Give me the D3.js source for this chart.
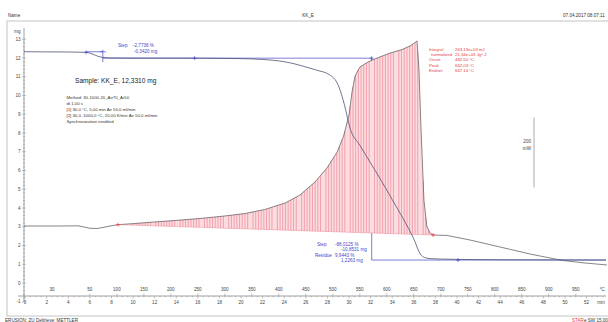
<!DOCTYPE html>
<html><head><meta charset="utf-8">
<script src="https://cdn.jsdelivr.net/npm/d3@7"></script>
<style>body{margin:0;background:#fff}svg{display:block;font-family:"Liberation Sans",Arial,sans-serif}</style>
</head><body><svg id="c" width="608" height="322"></svg>
<script>
// ---- data ----
const tgaTime = [-0.1,2,4,5.65,6.2,6.7,7.2,8,10,15,18,20,22,24,25,26,27,28.2,29,29.6,30.1,31,32,33,34,35,36,36.6,37,37.6,38.5,40,45,53.8];
const tgaMass = [12.331,12.325,12.318,12.30,12.22,12.10,12.03,12.0,11.992,11.989,11.98,11.965,11.92,11.8,11.68,11.52,11.35,11.1,10.55,9.45,8.25,7.35,6.4,5.45,4.45,3.45,2.35,1.55,1.36,1.3,1.28,1.26,1.24,1.226];
const dscTime = [-0.1,3.24,4.9,5.46,6.0,6.67,7.31,8.06,8.61,10.19,11.57,13.9,16.2,18.5,20.4,22.2,24.1,25.46,26.85,27.96,28.9,29.5,30.0,30.28,30.56,31.0,31.76,32.69,33.8,34.9,35.74,36.3,36.48,36.67,36.94,37.2,37.5,37.78,39.07,41.2,43.98,46.76,49.8,51.85,53.9];
const dscHeat = [0,0,0.5,-2.9,-6.6,-7.1,-3.7,1.1,3.7,7.1,10.6,15.7,21.4,28.6,35.7,47.1,65.7,88.6,125.7,165.7,211,257,317,383,428.6,454,468.6,481,494,504,515.7,528.6,445.7,274,74,0,-20,-25.7,-27,-40,-60,-80,-98.6,-105.7,-111.4];
const integrationTime = [8.61, 37.78];
const integrationBase = [3.7, -25.7];
const massTicks = [-1,0,1,2,3,4,5,6,7,8,9,10,11,12,13];
const timeTickLabels = [0,2,4,6,8,10,12,14,16,18,20,22,24,26,28,30,32,34,36,38,40,42,44,46,48,50,52];
const tempTickLabels = [50,100,150,200,250,300,350,400,450,500,550,600,650,700,750,800,850,900,950];
const isoTemp = 30, isoEnd = 5, heatRate = 20, isoLabelTime = 2.5;
const stepLevels = [12.331, 11.989, 1.226];
const stepTimes = [5.65, 7.2, 32.1, 53.8];
const stepMarkTimes = [15.7, 40.1];
const scaleBarBase = 110, scaleBarSpan = 200;
const sampleText = "Sample: KK_E, 12,3310 mg";
const methodLines = ["Method: 30-1000-20_Air70_Ar50","dt 1,00 s","[1] 30,0 °C, 5,00 min   Air 50,0 ml/min","[2] 30,0..1000,0 °C, 20,00 K/min   Air 50,0 ml/min","Synchronization enabled"];
const step1Text = ["Step", "-2,7736 %", "-0,3420 mg"];
const step2Text = [["Step","-88,0125 %"],["","-10,8531 mg"],["Residue","9,9443 %"],["","1,2263 mg"]];
const integralText = [["Integral","263,13e+03 mJ"],["normalized","21,34e+03 Jg^-1"],["Onset","482,50 °C"],["Peak","662,03 °C"],["Endset","667,14 °C"]];

// ---- scales ----
const svg = d3.select("#c");
const x = d3.scaleLinear().domain([-0.1, 53.8]).range([24, 606]);
const yMg = d3.scaleLinear().domain([-1, 13]).range([301.8, 39.2]);
const yDsc = d3.scaleLinear().domain([-216.6, 533.7]).range([301.8, 39.2]);
const tempToTime = T => isoEnd + (T - isoTemp) / heatRate;

const blue = "#4646c8", red = "#e83a44";

// frame & header
svg.append("rect").attr("x",7).attr("y",21).attr("width",610).attr("height",295).attr("fill","none").attr("stroke","#c4c4c4").attr("stroke-width",1);
svg.append("text").attr("x",8).attr("y",17).attr("font-size",4.6).attr("fill","#333").text("Name");
svg.append("text").attr("x",308).attr("y",17).attr("font-size",4.6).attr("fill","#333").attr("text-anchor","middle").text("KK_E");
svg.append("text").attr("x",563).attr("y",17).attr("font-size",4.6).attr("fill","#333").text("07.04.2017 08:07:11");
svg.append("text").attr("x",5).attr("y",322).attr("font-size",4.6).attr("fill","#333").text("ERUSION: ZU Deltrieve: METTLER");
const st = svg.append("text").attr("x",572).attr("y",322).attr("font-size",4.6).attr("fill","#333");
st.append("tspan").attr("fill",red).text("STAR");
st.append("tspan").text("e SW 15.00");

// y axis
const yAx = svg.append("g");
yAx.append("line").attr("x1",24).attr("x2",24).attr("y1",yMg(-1)).attr("y2",28).attr("stroke","#888").attr("stroke-width",0.8);
d3.range(-1, 13.01, 0.2).forEach(v => {
  const major = Math.abs(v - Math.round(v)) < 1e-6;
  yAx.append("line").attr("x1", major ? 22 : 23).attr("x2", major ? 26 : 25).attr("y1", yMg(v)).attr("y2", yMg(v)).attr("stroke","#888").attr("stroke-width",0.5);
});
massTicks.forEach(v => yAx.append("text").attr("x",20.5).attr("y",yMg(v)+1.6).attr("font-size",4.6).attr("text-anchor","end").attr("fill","#444").text(v));
yAx.append("text").attr("x",20.5).attr("y",32.5).attr("font-size",4.6).attr("text-anchor","end").attr("fill","#444").text("mg");

// x axis
const axY = 296;
const xAx = svg.append("g");
xAx.append("line").attr("x1",18).attr("x2",606).attr("y1",axY).attr("y2",axY).attr("stroke","#888").attr("stroke-width",0.8);
d3.range(0, 53.6, 0.5).forEach(t => {
  const major = Math.abs(t/2 - Math.round(t/2)) < 1e-6;
  xAx.append("line").attr("x1",x(t)).attr("x2",x(t)).attr("y1",axY).attr("y2",axY + (major?2.5:1.3)).attr("stroke","#888").attr("stroke-width",0.5);
});
timeTickLabels.forEach(t => xAx.append("text").attr("x",x(t)).attr("y",303.5).attr("font-size",4.6).attr("text-anchor","middle").attr("fill","#444").text(t));
xAx.append("text").attr("x",601).attr("y",303.5).attr("font-size",4.6).attr("text-anchor","middle").attr("fill","#444").text("min");
tempTickLabels.forEach(T => {
  xAx.append("line").attr("x1",x(tempToTime(T))).attr("x2",x(tempToTime(T))).attr("y1",axY).attr("y2",axY-2.5).attr("stroke","#888").attr("stroke-width",0.5);
  xAx.append("text").attr("x",x(tempToTime(T))).attr("y",291).attr("font-size",4.6).attr("text-anchor","middle").attr("fill","#444").text(T);
});
xAx.append("text").attr("x",x(isoLabelTime)).attr("y",291).attr("font-size",4.6).attr("text-anchor","middle").attr("fill","#444").text(isoTemp);
xAx.append("text").attr("x",602).attr("y",291).attr("font-size",4.6).attr("text-anchor","middle").attr("fill","#444").text("°C");

// blue step evaluation lines (behind fill)
const bl = svg.append("g").attr("stroke",blue).attr("stroke-width",0.7).attr("fill","none");
bl.append("line").attr("x1",x(stepTimes[0])).attr("x2",x(stepTimes[1])).attr("y1",yMg(stepLevels[0])).attr("y2",yMg(stepLevels[0]));
bl.append("line").attr("x1",x(stepTimes[1])).attr("x2",x(stepTimes[1])).attr("y1",yMg(stepLevels[0])-2).attr("y2",yMg(stepLevels[1])+4);
bl.append("line").attr("x1",x(stepTimes[1])-3).attr("x2",x(stepTimes[1])+3).attr("y1",yMg(stepLevels[0])).attr("y2",yMg(stepLevels[0]));
bl.append("line").attr("x1",x(stepTimes[1])).attr("x2",x(stepTimes[2])).attr("y1",yMg(stepLevels[1])).attr("y2",yMg(stepLevels[1]));
bl.append("line").attr("x1",x(stepTimes[2])).attr("x2",x(stepTimes[2])).attr("y1",yMg(stepLevels[1])).attr("y2",yMg(stepLevels[2]));
bl.append("line").attr("x1",x(stepTimes[2])).attr("x2",x(stepTimes[3])).attr("y1",yMg(stepLevels[2])).attr("y2",yMg(stepLevels[2]));

// DSC fill with stripes
const interp = (xs, ys, t) => {
  const i = Math.max(1, Math.min(xs.length-1, d3.bisectLeft(xs, t)));
  const f = (t - xs[i-1]) / (xs[i] - xs[i-1]);
  return ys[i-1] + f * (ys[i] - ys[i-1]);
};
const base = t => interp(integrationTime, integrationBase, t);
const fillPts = [];
dscTime.forEach((t,i) => { if (t >= integrationTime[0] && t <= integrationTime[1]) fillPts.push([t, dscHeat[i]]); });
svg.append("path").datum(fillPts)
  .attr("d", d3.area().x(d=>x(d[0])).y0(d=>yDsc(base(d[0]))).y1(d=>yDsc(d[1])))
  .attr("fill","#fbdde1");
const stripes = svg.append("g").attr("stroke","#f29aa5").attr("stroke-width",0.9);
let k = 0;
for (let px = x(integrationTime[0]); px <= x(integrationTime[1]); px += 2.7, k++) {
  if (k % 9 === 4) continue;
  const t = x.invert(px);
  const top = interp(dscTime, dscHeat, t);
  stripes.append("line").attr("x1",px).attr("x2",px).attr("y1",yDsc(base(t))).attr("y2",yDsc(top));
}
// DSC line
svg.append("path").datum(dscTime.map((t,i)=>[t,dscHeat[i]]))
  .attr("d", d3.line().x(d=>x(d[0])).y(d=>yDsc(d[1])))
  .attr("fill","none").attr("stroke","#6d6368").attr("stroke-width",0.8);
// integration baseline
svg.append("line").attr("x1",x(integrationTime[0])).attr("x2",x(integrationTime[1]))
  .attr("y1",yDsc(integrationBase[0])).attr("y2",yDsc(integrationBase[1])).attr("stroke","#f08a96").attr("stroke-width",0.5);
// TGA line
svg.append("path").datum(tgaTime.map((t,i)=>[t,tgaMass[i]]))
  .attr("d", d3.line().x(d=>x(d[0])).y(d=>yMg(d[1])).curve(d3.curveMonotoneX))
  .attr("fill","none").attr("stroke","#4c5472").attr("stroke-width",0.8);

// markers
const plus = (cx, cy, col) => {
  svg.append("line").attr("x1",cx-2).attr("x2",cx+2).attr("y1",cy).attr("y2",cy).attr("stroke",col).attr("stroke-width",0.7);
  svg.append("line").attr("x1",cx).attr("x2",cx).attr("y1",cy-2).attr("y2",cy+2).attr("stroke",col).attr("stroke-width",0.7);
};
plus(x(stepTimes[0]), yMg(interp(tgaTime,tgaMass,stepTimes[0])), blue);
plus(x(stepMarkTimes[0]), yMg(stepLevels[1]), blue);
plus(x(stepTimes[2]), yMg(stepLevels[1]), blue);
plus(x(stepMarkTimes[1]), yMg(stepLevels[2]), blue);
plus(x(integrationTime[0]), yDsc(integrationBase[0]), red);
plus(x(integrationTime[1]), yDsc(integrationBase[1]), red);

// scale bar
svg.append("line").attr("x1",534).attr("x2",534).attr("y1",yDsc(scaleBarBase)).attr("y2",yDsc(scaleBarBase+scaleBarSpan)).attr("stroke","#aaa").attr("stroke-width",1);
svg.append("text").attr("x",531).attr("y",143).attr("font-size",4.6).attr("text-anchor","end").attr("fill","#444").text(scaleBarSpan);
svg.append("text").attr("x",531).attr("y",149.5).attr("font-size",4.6).attr("text-anchor","end").attr("fill","#444").text("mW");

// texts
svg.append("text").attr("x",75).attr("y",83).attr("font-size",6.6).attr("fill","#222").text(sampleText);
methodLines.forEach((s,i) => svg.append("text").attr("x",66.5).attr("y",98.5 + i*6).attr("font-size",4.3).attr("fill","#333").text(s));
svg.append("text").attr("x",118).attr("y",46.5).attr("font-size",4.6).attr("fill",blue).text(step1Text[0]);
svg.append("text").attr("x",133).attr("y",46.5).attr("font-size",4.6).attr("fill",blue).text(step1Text[1]);
svg.append("text").attr("x",134).attr("y",52.5).attr("font-size",4.6).attr("fill",blue).text(step1Text[2]);
step2Text.forEach((r,i) => {
  svg.append("text").attr("x",r[0]==="Residue"?315:317).attr("y",245.5 + i*5.6).attr("font-size",4.6).attr("fill",blue).text(r[0]);
  svg.append("text").attr("x",i%2===0?335:341).attr("y",245.5 + i*5.6).attr("font-size",4.6).attr("fill",blue).text(r[1]);
});
integralText.forEach((r,i) => {
  svg.append("text").attr("x",i===1?431:429).attr("y",50.5 + i*5.4).attr("font-size",4.3).attr("fill",red).text(r[0]);
  svg.append("text").attr("x",455).attr("y",50.5 + i*5.4).attr("font-size",4.3).attr("fill",red).text(r[1]);
});
</script></body></html>
